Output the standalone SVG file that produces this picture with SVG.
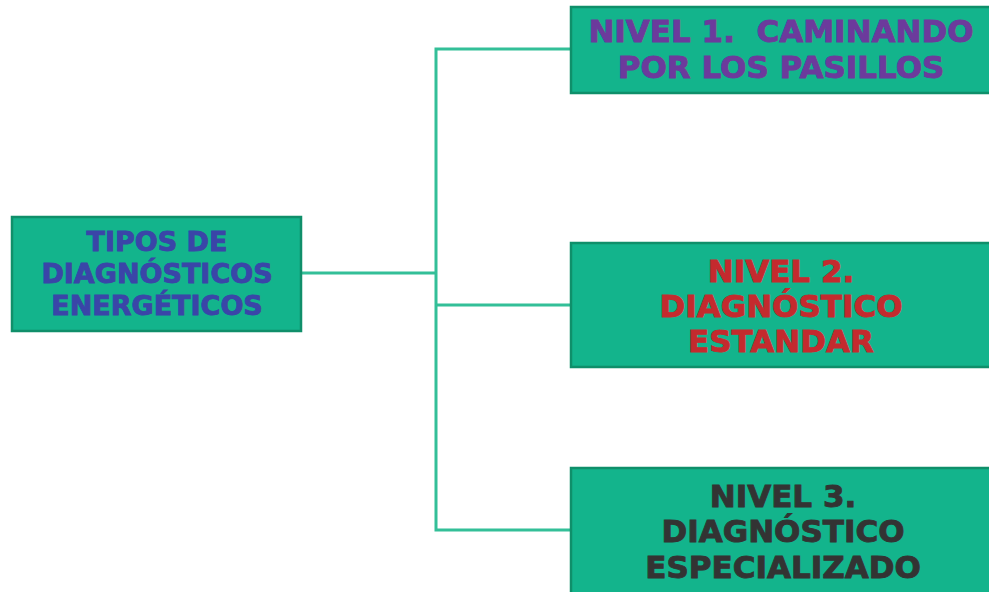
<svg xmlns="http://www.w3.org/2000/svg" width="989" height="592" viewBox="0 0 989 592">
<style>
.box{fill:#13b48c;stroke:#0f8f6a;stroke-width:2.5}
.t{font-family:"DejaVu Sans",Verdana,sans-serif;font-weight:bold;text-anchor:middle;stroke-width:0.9}
.c{fill:none;stroke:#33bf98;stroke-width:3}
</style>
<rect width="989" height="592" fill="#ffffff"/>
<g id="connectors">
<path class="c" d="M302 273 H436"/>
<path class="c" d="M571 49 H436 V530 H571"/>
<path class="c" d="M436 305 H571"/>
</g>
<g id="root">
<rect class="box" x="12" y="217" width="289" height="114"/>
<text class="t" font-size="27" fill="#3a45a8" stroke="#3a45a8"><tspan x="157" y="251">TIPOS DE</tspan><tspan x="157" y="283">DIAGNÓSTICOS</tspan><tspan x="157" y="315">ENERGÉTICOS</tspan></text>
</g>
<g id="nivel1">
<rect class="box" x="571" y="7" width="422" height="86"/>
<text class="t" font-size="31" fill="#6c3a9c" stroke="#6c3a9c" xml:space="preserve"><tspan x="781" y="41.5">NIVEL 1.  CAMINANDO</tspan><tspan x="781" y="77.5">POR LOS PASILLOS</tspan></text>
</g>
<g id="nivel2">
<rect class="box" x="571" y="243" width="422" height="124"/>
<text class="t" font-size="31" fill="#c42a2e" stroke="#c42a2e"><tspan x="781" y="282">NIVEL 2.</tspan><tspan x="781" y="316.5">DIAGNÓSTICO</tspan><tspan x="781" y="352">ESTANDAR</tspan></text>
</g>
<g id="nivel3">
<rect class="box" x="571" y="468" width="422" height="130"/>
<text class="t" font-size="31" fill="#333333" stroke="#333333"><tspan x="783" y="507">NIVEL 3.</tspan><tspan x="783" y="542">DIAGNÓSTICO</tspan><tspan x="783" y="578">ESPECIALIZADO</tspan></text>
</g>
</svg>
